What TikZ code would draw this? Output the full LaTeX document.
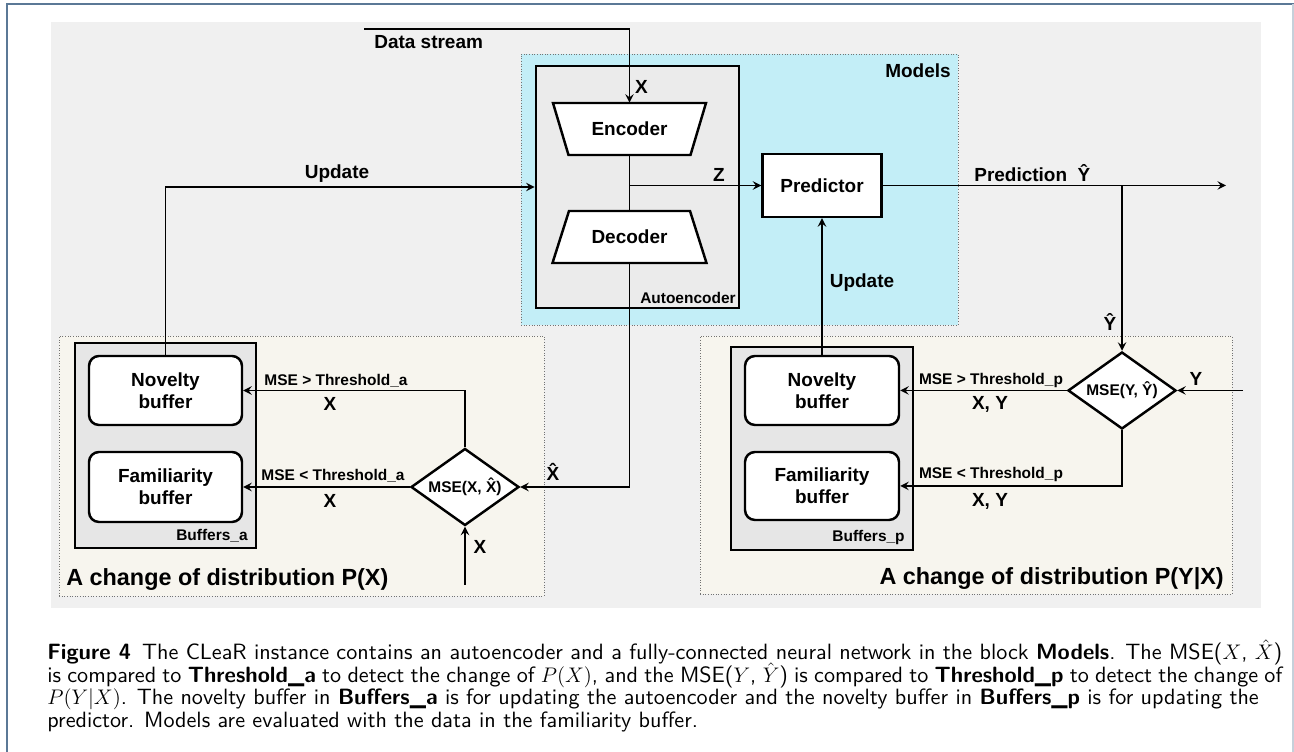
\documentclass[tikz,border=0pt]{standalone}
\usepackage{fontspec}
\newfontfamily\diafont{Liberation Sans}
\newfontfamily\capsans{lmsans10}[Extension=.otf,UprightFont=*-regular,BoldFont=*-bold]
\usetikzlibrary{positioning,shapes.geometric}

\definecolor{bggray}{HTML}{F0F0F0}
\definecolor{modelblue}{HTML}{C3EEF7}
\definecolor{aegray}{HTML}{EBEBEB}
\definecolor{bufgray}{HTML}{E6E6E6}
\definecolor{sandy}{HTML}{F7F5EE}
\definecolor{framecol}{HTML}{5B7896}

\newcommand\dfont{\diafont\bfseries\fontsize{10.8}{12.5}\selectfont}
\newcommand\dsmall{\diafont\bfseries\fontsize{8.8}{10}\selectfont}
\newcommand\dtitle{\diafont\bfseries\fontsize{13.3}{15}\selectfont}
\newcommand\capfont{\capsans\fontsize{12.6}{12.8}\selectfont\lineskiplimit=-\maxdimen}

\begin{document}
\begin{tikzpicture}
    [%%%%%%%%%%%%%%%%%%%%%%%%%%%%%%
    box/.style={rectangle,draw=black,line width=1.4pt,fill=white,font=\dfont,inner sep=0pt},
    rbox/.style={box,rounded corners=0.2cm,minimum width=3.06cm,minimum height=1.38cm,align=center},
    trapnode/.style={rectangle,inner sep=0pt,minimum width=3.06cm,minimum height=1.04cm,font=\dfont},
    trapline/.style={draw=black,line width=1.4pt,fill=white},
    grp/.style={rectangle,draw=black,line width=1.6pt,inner sep=0pt},
    area/.style={rectangle,draw=black!55,densely dotted,line width=0.5pt,inner sep=0pt},
    dia/.style={diamond,draw=black,line width=1.4pt,fill=white,inner sep=0pt,aspect=1.4,
        minimum width=2.16cm,minimum height=1.54cm,font=\dsmall},
    arr/.style={-stealth,line width=1.1pt},
    lbl/.style={font=\dfont,inner sep=0pt},
    slbl/.style={font=\dsmall,inner sep=0pt},
    ]%%%%%%%%%%%%%%%%%%%%%%%%%%%%%%

    \useasboundingbox (0,0) rectangle (25.88,15.04);

    % page frame
    \draw[framecol,line width=0.8pt] (0.14,0) -- (0.14,14.96) -- (25.88,14.96);
    \draw[framecol!35,line width=0.6pt] (25.86,14.96) -- (25.86,0);

    % background
    \node[rectangle,fill=bggray,inner sep=0pt,minimum width=24.20cm,minimum height=11.72cm] at (13.12,8.74) (bg){};

    % areas
    \node[area,fill=modelblue,minimum width=8.74cm,minimum height=5.42cm] at (14.79,11.25) (models){};
    \node[lbl,anchor=north east] at (19.02,13.78) (models_text) {Models};
    \node[area,fill=sandy,minimum width=9.70cm,minimum height=5.20cm] at (6.03,5.72) (area_a){};
    \node[area,fill=sandy,minimum width=10.64cm,minimum height=5.16cm] at (19.32,5.74) (area_p){};
    \node[font=\dtitle,inner sep=0pt,anchor=west] at (1.32,3.44) (area_a_text) {A change of distribution P(X)};
    \node[font=\dtitle,inner sep=0pt,anchor=east] at (24.48,3.46) (area_p_text) {A change of distribution P(Y|X)};

    % autoencoder
    \node[grp,fill=aegray,minimum width=4.06cm,minimum height=4.84cm] at (12.75,11.30) (ae){};
    \node[slbl,anchor=south east] at (14.72,8.96) (ae_text) {Autoencoder};
    \draw[trapline] (11.06,12.98) -- (14.12,12.98) -- (13.81,11.94) -- (11.37,11.94) -- cycle;
    \node[trapnode] at (12.59,12.46) (encoder) {Encoder};
    \draw[trapline] (11.38,10.82) -- (13.80,10.82) -- (14.13,9.78) -- (11.05,9.78) -- cycle;
    \node[trapnode] at (12.59,10.30) (decoder) {Decoder};
    \draw[line width=1.1pt] (encoder.south) -- (decoder.north);

    % predictor
    \node[box,minimum width=2.38cm,minimum height=1.26cm] at (16.44,11.33) (predictor) {Predictor};
    \coordinate (z_split) at (encoder.south |- predictor.west);
    \draw[arr] (z_split) -- (predictor.west);
    \node[lbl] at (14.38,11.54) (z_text) {Z};

    % data stream
    \coordinate (stream) at (7.28,14.46);
    \draw[arr] (stream) -| (encoder.north);
    \node[lbl,anchor=west] at (7.48,14.20) (stream_text) {Data stream};
    \node[lbl] at (12.83,13.30) (x_text) {X};

    % prediction
    \coordinate (pred_out) at (24.52,11.33);
    \draw[arr] (predictor.east) -- (pred_out);
    \node[lbl,anchor=west] at (19.48,11.58) (pred_text) {Prediction~~Ŷ};

    % buffers_a
    \node[grp,fill=bufgray,minimum width=3.62cm,minimum height=4.10cm] at (3.31,6.13) (buf_a){};
    \node[slbl,anchor=south east] at (4.96,4.18) (buf_a_text) {Buffers\_a};
    \node[rbox] at (3.31,7.23) (nov_a) {Novelty\\buffer};
    \node[rbox,minimum height=1.40cm] at (3.31,5.30) (fam_a) {Familiarity\\buffer};
    \node[dia] at (9.30,5.30) (mse_a) {MSE(X, X̂)};

    \draw[arr] (mse_a.north) |- (nov_a.east);
    \draw[arr] (mse_a.west) -- (fam_a.east);
    \draw[arr] (decoder.south) |- (mse_a.east);
    \draw[arr] (nov_a.north) |- (ae.west);
    \coordinate (x_in) at (9.30,3.34);
    \draw[arr] (x_in) -- (mse_a.south);

    \node[slbl] at (6.72,7.42) (gt_a_text) {MSE > Threshold\_a};
    \node[lbl] at (6.60,6.96) (gt_a_x) {X};
    \node[slbl] at (6.66,5.52) (lt_a_text) {MSE < Threshold\_a};
    \node[lbl] at (6.60,5.02) (lt_a_x) {X};
    \node[lbl] at (11.06,5.60) (xhat_text) {X̂};
    \node[lbl] at (9.60,4.10) (x_in_text) {X};
    \node[lbl] at (6.74,11.56) (upd_a_text) {Update};

    % buffers_p
    \node[grp,fill=bufgray,minimum width=3.64cm,minimum height=4.06cm] at (16.44,6.07) (buf_p){};
    \node[slbl,anchor=south east] at (18.10,4.14) (buf_p_text) {Buffers\_p};
    \node[rbox,minimum width=3.08cm] at (16.44,7.23) (nov_p) {Novelty\\buffer};
    \node[rbox,minimum width=3.08cm,minimum height=1.36cm] at (16.44,5.32) (fam_p) {Familiarity\\buffer};
    \node[dia] at (22.44,7.23) (mse_p) {MSE(Y, Ŷ)};

    \coordinate (y_split) at (mse_p.north |- predictor.east);
    \draw[arr] (y_split) -- (mse_p.north);
    \draw[arr] (mse_p.west) -- (nov_p.east);
    \draw[arr] (mse_p.south) |- (fam_p.east);
    \draw[arr] (nov_p.north) -- (predictor.south);
    \coordinate (y_in) at (24.86,7.23);
    \draw[arr] (y_in) -- (mse_p.east);

    \node[slbl] at (19.82,7.42) (gt_p_text) {MSE > Threshold\_p};
    \node[lbl] at (19.80,6.96) (gt_p_xy) {X, Y};
    \node[slbl] at (19.82,5.54) (lt_p_text) {MSE < Threshold\_p};
    \node[lbl] at (19.80,5.02) (lt_p_xy) {X, Y};
    \node[lbl] at (22.20,8.60) (yhat_text) {Ŷ};
    \node[lbl] at (23.92,7.46) (y_in_text) {Y};
    \node[lbl] at (17.24,9.38) (upd_p_text) {Update};

    % caption
    \node[font=\capfont,inner sep=0pt,anchor=north west,text width=24.70cm,align=justify] at (0.94,2.18) (caption)
        {\textbf{Figure 4}\enspace The CLeaR instance contains an autoencoder and a fully-connected neural network in the block \textbf{Models}. The MSE($X$, \smash{$\hat{X}$})\linebreak
        is compared to \textbf{Threshold\_a} to detect the change of $P(X)$, and the MSE($Y$, \smash{$\hat{Y}$}) is compared to \textbf{Threshold\_p} to detect the change of\linebreak
        $P(Y|X)$. The novelty buffer in \textbf{Buffers\_a} is for updating the autoencoder and the novelty buffer in \textbf{Buffers\_p} is for updating the\\
        predictor. Models are evaluated with the data in the familiarity buffer.};

\end{tikzpicture}
\end{document}
